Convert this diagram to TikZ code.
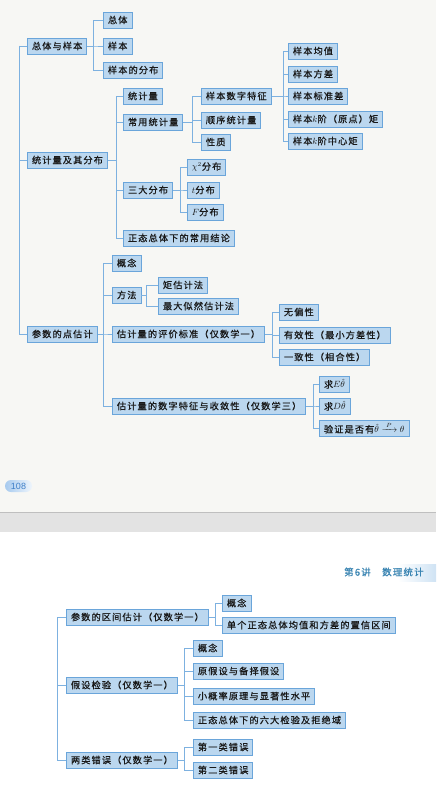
\documentclass[tikz,border=0pt]{standalone}
\usepackage{amsmath}
\usepackage{fontspec}
\setmainfont{Noto Sans CJK SC}[LetterSpace=12, FakeBold=0.7]
\newfontfamily\pagefont{Liberation Sans}
\usepackage{tikz}

\definecolor{boxfill}{HTML}{BBD7EF}
\definecolor{boxline}{HTML}{6AA5DA}
\definecolor{linkblue}{HTML}{7DB1E0}
\definecolor{headblue}{HTML}{3F93C6}
\definecolor{pagebg}{HTML}{F7F7F4}
\definecolor{bandgray}{HTML}{E3E3E3}
\definecolor{pillleft}{HTML}{A7CAEE}
\definecolor{pillright}{HTML}{EEF5FC}
\definecolor{pagenum}{HTML}{3E7FC8}

\tikzset{
  item/.style={draw=boxline, fill=boxfill, line width=0.9pt, anchor=west,
    inner xsep=4.5pt, inner ysep=0pt, minimum height=16pt,
    font=\fontsize{9.2}{9.2}\selectfont, text=black!90},
  link/.style={draw=linkblue, line width=0.8pt},
}

\begin{document}
\begin{tikzpicture}[x=1pt,y=-1pt]
  % page background
  \useasboundingbox (0,0) rectangle (436,789);
  \fill[pagebg] (0,0) rectangle (436,512);
  \fill[bandgray] (0,512) rectangle (436,532);
  \draw[black!25, line width=0.8pt] (0,512) -- (436,512);
  \draw[black!15, line width=0.5pt] (0,532) -- (436,532);
  \fill[white] (0,532.3) rectangle (436,789);

  % page number
  \node[rounded corners=6pt, left color=pillleft, right color=pillright,
    minimum width=27pt, minimum height=12pt, inner sep=0pt,
    font=\pagefont\fontsize{9}{9}\selectfont, text=pagenum] (pnum) at (18.5,486) {108};

  % running head
  \shade[left color=white, right color=boxfill!70] (398,564) rectangle (436,581);
  \node[font=\fontsize{9.5}{9.5}\selectfont\itshape, text=headblue!90!black, anchor=west, inner sep=0pt] (hnum) at (344,572) {第6讲};
  \node[font=\fontsize{9.5}{9.5}\selectfont, text=headblue!90!black, anchor=west, inner sep=0pt] (htitle) at (382,572) {数理统计};

  % upper tree
  \coordinate (top1) at (19,46);
  \node[item] (zt) at (27,46) {总体与样本};
  \node[item] (zt1) at (103,20) {总体};
  \node[item] (zt2) at (103,46) {样本};
  \node[item] (zt3) at (103,70) {样本的分布};

  \node[item] (tj) at (27,160) {统计量及其分布};
  \node[item] (tj1) at (123,96) {统计量};
  \node[item] (tj2) at (123,122) {常用统计量};
  \node[item] (tj3) at (123,190) {三大分布};
  \node[item] (tj4) at (123,238) {正态总体下的常用结论};

  \node[item] (cy1) at (201,96) {样本数字特征};
  \node[item] (cy2) at (201,120) {顺序统计量};
  \node[item] (cy3) at (201,142) {性质};

  \node[item] (sz1) at (288,51) {样本均值};
  \node[item] (sz2) at (288,74) {样本方差};
  \node[item] (sz3) at (288,96) {样本标准差};
  \node[item] (sz4) at (288,119) {样本$k$阶（原点）矩};
  \node[item] (sz5) at (288,141) {样本$k$阶中心矩};

  \node[item] (fb1) at (187,167) {$\chi^2$分布};
  \node[item] (fb2) at (187,190) {$t$分布};
  \node[item] (fb3) at (187,212) {$F$分布};

  \node[item] (dg) at (27,334) {参数的点估计};
  \node[item] (dg1) at (112,263) {概念};
  \node[item] (dg2) at (112,295) {方法};
  \node[item] (dg3) at (112,334) {估计量的评价标准（仅数学一）};
  \node[item] (dg4) at (112,406) {估计量的数字特征与收敛性（仅数学三）};

  \node[item] (ff1) at (158,285) {矩估计法};
  \node[item] (ff2) at (158,306) {最大似然估计法};

  \node[item] (pj1) at (279,312) {无偏性};
  \node[item] (pj2) at (279,335) {有效性（最小方差性）};
  \node[item] (pj3) at (279,357) {一致性（相合性）};

  \node[item] (sl1) at (319,384) {求$E\hat{\theta}$};
  \node[item] (sl2) at (319,406) {求$D\hat{\theta}$};
  \node[item] (sl3) at (319,428) {验证是否有$\hat{\theta}\xrightarrow{\;P\;}\theta$};

  % upper connectors
  \draw[link] (top1) -- (zt.west);
  \draw[link] (top1) |- (tj.west);
  \draw[link] (top1) |- (dg.west);
  \foreach \c in {zt1,zt2,zt3} \draw[link] (zt.east) -- ++(6,0) |- (\c.west);
  \foreach \c in {tj1,tj2,tj3,tj4} \draw[link] (tj.east) -- ++(8,0) |- (\c.west);
  \foreach \c in {cy1,cy2,cy3} \draw[link] (tj2.east) -- ++(9,0) |- (\c.west);
  \foreach \c in {sz1,sz2,sz3,sz4,sz5} \draw[link] (cy1.east) -- ++(12,0) |- (\c.west);
  \foreach \c in {fb1,fb2,fb3} \draw[link] (tj3.east) -- ++(7,0) |- (\c.west);
  \foreach \c in {dg1,dg2,dg3,dg4} \draw[link] (dg.east) -- ++(6,0) |- (\c.west);
  \foreach \c in {ff1,ff2} \draw[link] (dg2.east) -- ++(5,0) |- (\c.west);
  \foreach \c in {pj1,pj2,pj3} \draw[link] (dg3.east) -- ++(7,0) |- (\c.west);
  \foreach \c in {sl1,sl2,sl3} \draw[link] (dg4.east) -- ++(7,0) |- (\c.west);

  % lower tree
  \coordinate (top2) at (57,617);
  \node[item] (qj) at (66,617) {参数的区间估计（仅数学一）};
  \node[item] (qj1) at (222,603) {概念};
  \node[item] (qj2) at (222,625) {单个正态总体均值和方差的置信区间};

  \node[item] (jy) at (66,685) {假设检验（仅数学一）};
  \node[item] (jy1) at (193,648) {概念};
  \node[item] (jy2) at (193,671) {原假设与备择假设};
  \node[item] (jy3) at (193,696) {小概率原理与显著性水平};
  \node[item] (jy4) at (193,720) {正态总体下的六大检验及拒绝域};

  \node[item] (lc) at (66,760) {两类错误（仅数学一）};
  \node[item] (lc1) at (193,747) {第一类错误};
  \node[item] (lc2) at (193,770) {第二类错误};

  % lower connectors
  \draw[link] (top2) -- (qj.west);
  \draw[link] (top2) |- (jy.west);
  \draw[link] (top2) |- (lc.west);
  \foreach \c in {qj1,qj2} \draw[link] (qj.east) -- ++(7,0) |- (\c.west);
  \foreach \c in {jy1,jy2,jy3,jy4} \draw[link] (jy.east) -- ++(7,0) |- (\c.west);
  \foreach \c in {lc1,lc2} \draw[link] (lc.east) -- ++(7,0) |- (\c.west);
\end{tikzpicture}
\end{document}
